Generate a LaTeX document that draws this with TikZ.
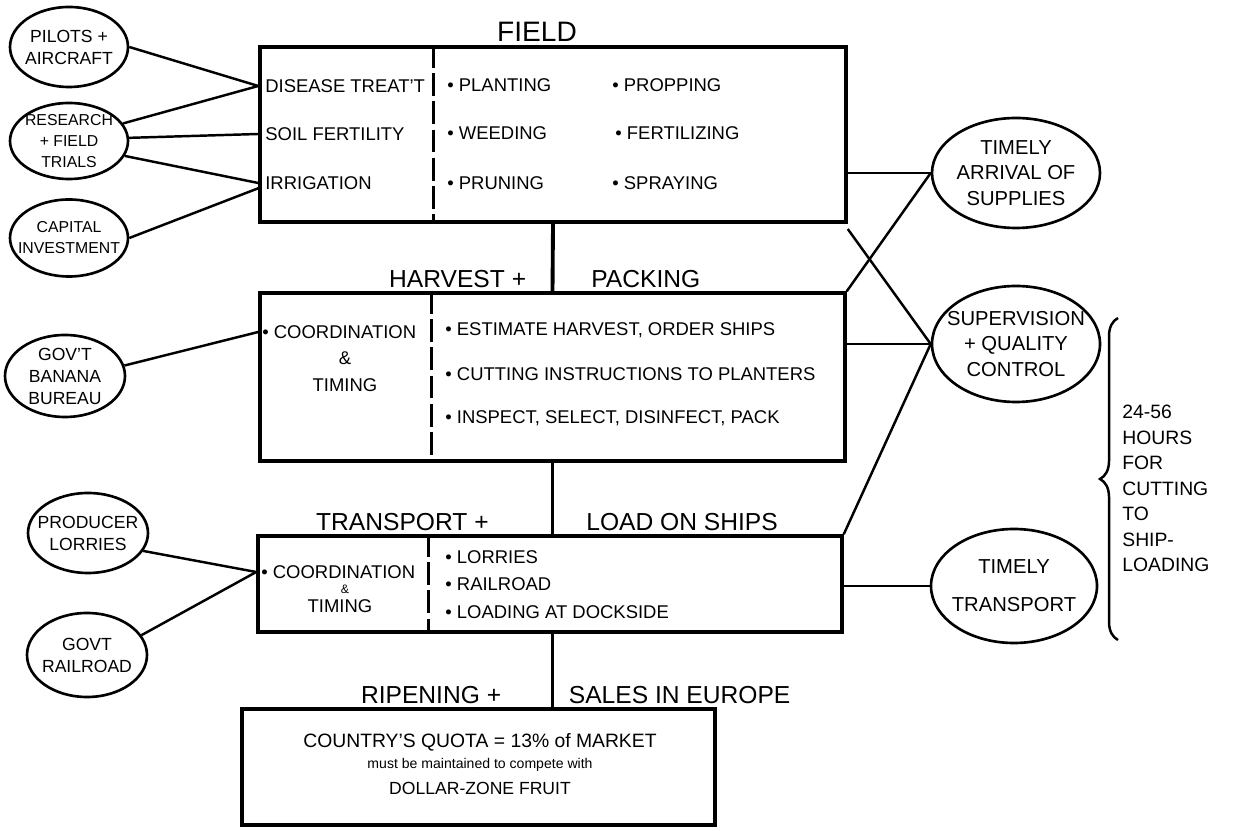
\documentclass[tikz,border=0pt]{standalone}
\usepackage{fontspec}
\setmainfont{Liberation Sans}
\usetikzlibrary{positioning,shapes.geometric,decorations.pathreplacing}

\begin{document}
\begin{tikzpicture}[
    stagebox/.style={draw, line width=2pt, inner sep=0pt},
    party/.style={draw, ellipse, line width=1.5pt, inner xsep=-6pt, inner ysep=-5pt,
      align=center, font=\fontsize{10}{12.5}\selectfont},
    smallparty/.style={party, font=\fontsize{9}{12}\selectfont},
    bigparty/.style={party, font=\fontsize{11.5}{14.5}\selectfont},
    stagelabel/.style={font=\fontsize{14}{16}\selectfont, inner sep=2pt},
    itemtext/.style={font=\fontsize{10.5}{12}\selectfont, anchor=west, inner sep=0pt},
    link/.style={line width=1.4pt},
    stem/.style={line width=2.2pt},
    divider/.style={line width=1.5pt, dash pattern=on 13pt off 3pt},
  ]
\useasboundingbox (0,0) rectangle (24.98,16.6);

% stage boxes
\node[stagebox, minimum width=11.72cm, minimum height=3.5cm] (field) at (11.06,13.91) {};
\node[stagebox, minimum width=11.7cm, minimum height=3.36cm] (harvest) at (11.05,9.06) {};
\node[stagebox, minimum width=11.68cm, minimum height=1.92cm] (transport) at (11.0,4.92) {};
\node[stagebox, minimum width=9.46cm, minimum height=2.32cm] (ripening) at (9.57,1.26) {};

\draw[stem] (field.south) -- (harvest.north);
\draw[stem] (harvest.south) -- (harvest.south |- transport.north);
\draw[stem] (harvest.south |- transport.south) -- (harvest.south |- ripening.north);

\draw[divider] ([xshift=3.5cm]field.north west) -- ([xshift=3.5cm]field.south west);
\draw[divider] ([xshift=3.46cm]harvest.north west) -- ([xshift=3.46cm]harvest.south west);
\draw[divider] ([xshift=3.44cm]transport.north west) -- ([xshift=3.44cm]transport.south west);

% stage titles
\node[stagelabel, font=\fontsize{16}{18}\selectfont, anchor=south] (fieldT) at ([xshift=-0.32cm]field.north) {FIELD};
\node[stagelabel, anchor=south east] (harvestL) at ([xshift=-0.45cm]harvest.north) {HARVEST +};
\node[stagelabel, anchor=south west] (harvestR) at ([xshift=0.7cm]harvest.north) {PACKING};
\node[stagelabel, anchor=south east] (transportL) at ([xshift=-1.2cm]harvest.south |- transport.north) {TRANSPORT +};
\node[stagelabel, anchor=south west] (transportR) at ([xshift=0.6cm]harvest.south |- transport.north) {LOAD ON SHIPS};
\node[stagelabel, anchor=south east] (ripeningL) at ([xshift=-0.95cm]harvest.south |- ripening.north) {RIPENING +};
\node[stagelabel, anchor=south west] (ripeningR) at ([xshift=0.25cm]harvest.south |- ripening.north) {SALES IN EUROPE};

% field
\node[itemtext] (disease) at (5.3,14.88) {DISEASE TREAT'T};
\node[itemtext] (soil) at (5.3,13.92) {SOIL FERTILITY};
\node[itemtext] (irrigation) at (5.3,12.94) {IRRIGATION};
\node[itemtext] (planting) at (8.94,14.9) {• PLANTING};
\node[itemtext] (weeding) at (8.94,13.94) {• WEEDING};
\node[itemtext] (pruning) at (8.94,12.94) {• PRUNING};
\node[itemtext] (propping) at (12.24,14.9) {• PROPPING};
\node[itemtext] (fertilizing) at (12.3,13.94) {• FERTILIZING};
\node[itemtext] (spraying) at (12.24,12.94) {• SPRAYING};

% harvest and packing
\node[itemtext] (coordH) at (5.24,9.96) {• COORDINATION};
\node[font=\fontsize{10.5}{12}\selectfont] (ampH) at (6.9,9.44) {\&};
\node[font=\fontsize{10.5}{12}\selectfont] (timingH) at (6.9,8.9) {TIMING};
\node[itemtext] (estimate) at (8.9,10.0) {• ESTIMATE HARVEST, ORDER SHIPS};
\node[itemtext] (cutting) at (8.9,9.12) {• CUTTING INSTRUCTIONS TO PLANTERS};
\node[itemtext] (inspect) at (8.9,8.24) {• INSPECT, SELECT, DISINFECT, PACK};

% transport
\node[itemtext] (coordT) at (5.22,5.16) {• COORDINATION};
\node[font=\fontsize{7}{8}\selectfont] (ampT) at (6.9,4.82) {\&};
\node[font=\fontsize{10.5}{12}\selectfont] (timingT) at (6.8,4.48) {TIMING};
\node[itemtext] (lorriesT) at (8.9,5.46) {• LORRIES};
\node[itemtext] (railT) at (8.9,4.92) {• RAILROAD};
\node[itemtext] (docksideT) at (8.9,4.36) {• LOADING AT DOCKSIDE};

% ripening
\node[font=\fontsize{11}{13}\selectfont] (quota) at (9.6,1.76) {COUNTRY'S QUOTA = 13\% of MARKET};
\node[font=\fontsize{8}{10}\selectfont] (maintain) at (9.6,1.3) {must be maintained to compete with};
\node[font=\fontsize{10}{12}\selectfont] (dollar) at (9.6,0.84) {DOLLAR-ZONE FRUIT};

% outside parties
\node[party, minimum width=2.36cm, minimum height=1.6cm] (pilots) at (1.38,15.66) {PILOTS +\\AIRCRAFT};
\node[smallparty, minimum width=2.36cm, minimum height=1.52cm] (research) at (1.38,13.78) {RESEARCH\\+ FIELD\\TRIALS};
\node[smallparty, minimum width=2.36cm, minimum height=1.54cm] (capital) at (1.38,11.84) {CAPITAL\\INVESTMENT};
\node[party, minimum width=2.4cm, minimum height=1.64cm] (bureau) at (1.3,9.08) {GOV'T\\BANANA\\BUREAU};
\node[party, minimum width=2.4cm, minimum height=1.6cm] (lorries) at (1.76,5.94) {PRODUCER\\LORRIES};
\node[party, minimum width=2.4cm, minimum height=1.68cm] (railroad) at (1.74,3.5) {GOVT\\RAILROAD};
\node[bigparty, minimum width=3.36cm, minimum height=2.2cm] (supplies) at (20.32,13.14) {TIMELY\\ARRIVAL OF\\SUPPLIES};
\node[bigparty, minimum width=3.36cm, minimum height=2.32cm] (supervision) at (20.32,9.72) {SUPERVISION\\+ QUALITY\\CONTROL};
\node[bigparty, minimum width=3.32cm, minimum height=2.28cm] (timely) at (20.28,4.88) {TIMELY\\[7pt]TRANSPORT};

\draw[link] (pilots.east) -- (field.west |- disease.west);
\draw[link] (research.18) -- (field.west |- disease.west);
\draw[link] (research.3) -- (field.west |- soil.west);
\draw[link] (research.-15) -- (field.west |- irrigation.west);
\draw[link] (capital.east) -- ([yshift=-3pt]field.west |- irrigation.west);
\draw[link] (bureau.10) -- (harvest.west |- coordH.west);
\draw[link] (lorries.-18) -- (transport.west |- coordT.west);
\draw[link] (railroad.20) -- (transport.west |- coordT.west);

\draw[link] (field.east |- supplies.west) -- (supplies.west);
\draw[link] ([yshift=-3pt]field.south east) -- (supervision.west);
\draw[link] (harvest.north east) -- (supplies.west);
\draw[link] (harvest.east |- supervision.west) -- (supervision.west);
\draw[link] (transport.north east) -- (supervision.west);
\draw[link] (transport.east |- timely.west) -- (timely.west);

% time span
\draw[link, decorate, decoration={brace, amplitude=0.36cm}] (22.36,3.8) -- (22.36,10.24);
\node[anchor=north west, align=left, inner sep=0pt, font=\fontsize{11}{14.5}\selectfont] (hours) at (22.44,8.5)
  {24-56\\HOURS\\FOR\\CUTTING\\TO\\SHIP-\\LOADING};
\end{tikzpicture}
\end{document}
